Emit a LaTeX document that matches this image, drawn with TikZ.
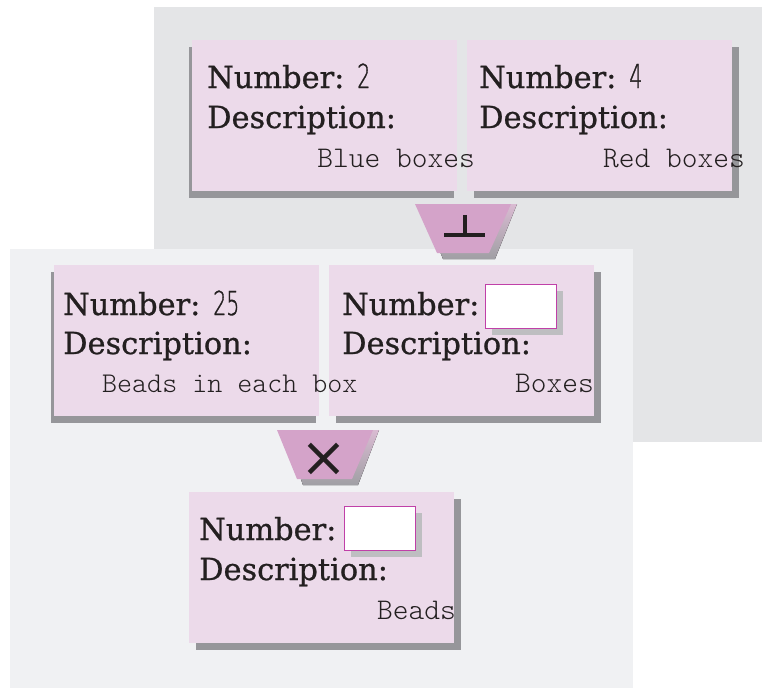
\documentclass[tikz,border=0pt]{standalone}
\usepackage{fontspec}
\usetikzlibrary{shadows}
\newfontfamily\cardserif{DejaVu Serif}[FakeBold=0.8]
\newfontfamily\digitfont{DejaVu Sans ExtraLight}[FakeStretch=0.62,FakeBold=1]
\newfontfamily\cardmono{Latin Modern Mono Light}
\newfontfamily\symfont{DejaVu Sans}
\definecolor{topbg}{HTML}{E4E5E7}
\definecolor{lowbg}{HTML}{F0F1F3}
\definecolor{cardpink}{HTML}{ECDAEA}
\definecolor{shadowgray}{HTML}{96969A}
\definecolor{oppink}{HTML}{D4A3C9}
\definecolor{opshadetop}{HTML}{D9BBD2}
\definecolor{opshadebot}{HTML}{A09FA4}
\definecolor{inkc}{HTML}{231F20}
\definecolor{slotline}{HTML}{C040A8}
\definecolor{slotshadow}{HTML}{BEBEC1}
\newcommand{\dg}[1]{{\fontsize{33}{36}\digitfont #1}}
\begin{document}
\begin{tikzpicture}[x=1pt,y=-1pt,
  card/.style={rectangle, fill=cardpink, inner sep=0, minimum width=265pt, minimum height=151pt, anchor=north west},
  shadowL/.style={general shadow={fill=shadowgray, shadow xshift=-3pt, shadow yshift=-7pt}},
  shadowR/.style={general shadow={fill=shadowgray, shadow xshift=7pt, shadow yshift=-7pt}},
  lbl/.style={anchor=base west, inner sep=0, text=inkc, font=\fontsize{30.4}{36}\cardserif},
  desc/.style={anchor=base east, inner sep=0, text=inkc, font=\fontsize{30}{32}\cardmono},
  slot/.style={rectangle, draw=slotline, line width=1.2pt, fill=white, inner sep=0, minimum width=71pt, minimum height=44pt, anchor=north west, general shadow={fill=slotshadow, shadow xshift=6pt, shadow yshift=-6pt}},
  opshape/.style={fill=oppink},
  opshadow/.style={top color=opshadetop, bottom color=opshadebot},
  opsym/.style={draw=inkc, line width=4pt}
]
\useasboundingbox (0,0) rectangle (762,688);
% backgrounds
\fill[topbg] (154,7) rectangle (762,442);
\fill[lowbg] (10,249) rectangle (633,688);

% top row
\node[card, shadowL] (c1) at (192,40) {};
\node[card, shadowR] (c2) at (467,40) {};
\node[lbl] (n1) at (207,88) {Number: \dg{2}};
\node[lbl] (d1) at (207,128) {Description:};
\node[desc] (t1) at (475,167) {Blue boxes};
\node[lbl] (n2) at (479,88) {Number: \dg{4}};
\node[lbl] (d2) at (479,128) {Description:};
\node[desc] (t2) at (745,167) {Red boxes};

% division operator
\fill[opshadow] (421,204) -- (517,204) -- (495,259) -- (443,259) -- cycle;
\fill[opshape] (415,204) -- (511,204) -- (489,253) -- (437,253) -- cycle;
\node[inner sep=0, minimum width=41pt, minimum height=22pt] (op1) at (465,226) {};
\draw[opsym] (op1.south west) ++(0,-2) -- ++(41,0);
\draw[opsym] (op1.north) -- ++(0,19);

% middle row
\node[card, shadowL] (c3) at (54,265) {};
\node[card, shadowR] (c4) at (329,265) {};
\node[lbl] (n3) at (63,315) {Number: \dg{25}};
\node[lbl] (d3) at (63,354) {Description:};
\node[desc, anchor=base west, font=\fontsize{28.6}{32}\cardmono] (t3) at (102,392) {Beads in each box};
\node[lbl] (n4) at (342,315) {Number:};
\node[slot] (s4) at (485,284) {};
\node[lbl] (d4) at (342,354) {Description:};
\node[desc] (t4) at (594,392) {Boxes};

% multiplication operator
\fill[opshadow] (283,430) -- (379,430) -- (358,485) -- (303,485) -- cycle;
\fill[opshape] (277,430) -- (373,430) -- (352,479) -- (297,479) -- cycle;
\node[inner sep=0, text=inkc, anchor=base, font=\fontsize{56}{60}\symfont] (op2) at (324,476) {×};

% bottom
\node[card, shadowR] (c5) at (189,492) {};
\node[lbl] (n5) at (199,540) {Number:};
\node[slot] (s5) at (344,506) {};
\node[lbl] (d5) at (199,580) {Description:};
\node[desc] (t5) at (456,619) {Beads};
\end{tikzpicture}
\end{document}
